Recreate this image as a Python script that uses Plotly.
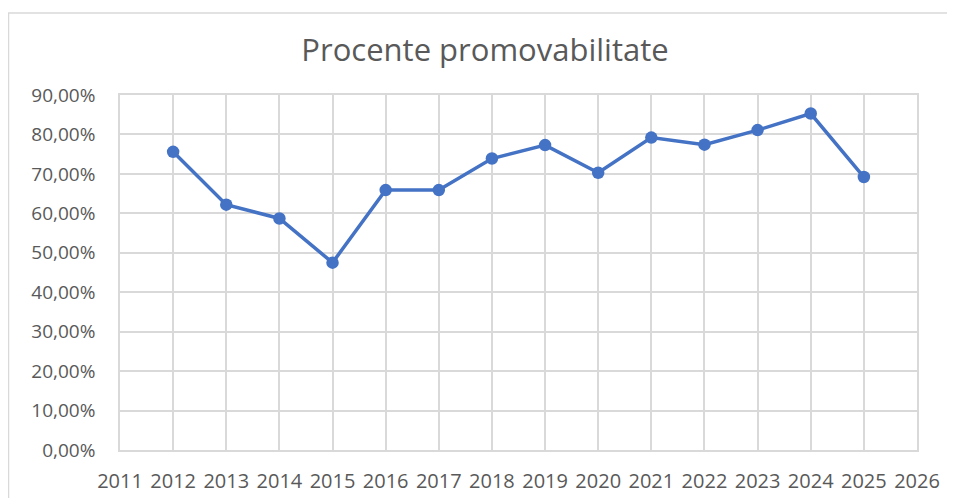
import plotly.graph_objects as go

years = [2012, 2013, 2014, 2015, 2016, 2017, 2018, 2019, 2020, 2021, 2022, 2023, 2024, 2025]
pass_rates = [0.756, 0.622, 0.587, 0.475, 0.659, 0.659, 0.739, 0.773, 0.703, 0.792, 0.774, 0.811, 0.853, 0.692]
x_ticks = list(range(2011, 2027))
y_ticks = [0, 0.1, 0.2, 0.3, 0.4, 0.5, 0.6, 0.7, 0.8, 0.9]

TEXT = "#595959"
GRID = "#d9d9d9"
BLUE = "#4472C4"
FONT = "Open Sans"

# page body has an 8px default margin; compensate
OFF = 8
W, H = 955 - OFF, 498 - OFF
L, R, T, B = 120 - OFF, 917 - OFF, 95 - OFF, 450 - OFF

fig = go.Figure()
fig.add_trace(go.Scatter(
    x=years, y=pass_rates, mode="lines+markers",
    line=dict(color=BLUE, width=3.5),
    marker=dict(color=BLUE, size=12.5),
    showlegend=False,
))

pw, ph = R - L, B - T
fig.add_shape(type="rect", xref="paper", yref="paper",
              x0=(8.5 - OFF - L) / pw, x1=(970 - L) / pw,
              y0=(B - 520) / ph, y1=(B - (13 - OFF)) / ph,
              line=dict(color=GRID, width=1.5), fillcolor="rgba(0,0,0,0)", layer="below")

fig.update_layout(
    width=W, height=H,
    margin=dict(l=L, r=W - R, t=T, b=H - B, autoexpand=False),
    paper_bgcolor="white", plot_bgcolor="white",
    separators=",.",
    font=dict(family=FONT, color=TEXT),
    title=dict(text="Procente promovabilitate", x=(485 - OFF) / W, xanchor="center",
               y=1 - (50 - OFF) / H, yanchor="middle", xref="container", yref="container",
               font=dict(family=FONT, size=31, color=TEXT)),
    xaxis=dict(range=[2011, 2026], tickvals=x_ticks, ticktext=[str(v) for v in x_ticks],
               showgrid=True, gridcolor=GRID, gridwidth=1.5, automargin=False,
               showline=True, linecolor=GRID, linewidth=1.5, mirror=True,
               zeroline=False, ticks="", ticklabelstandoff=12,
               tickfont=dict(family=FONT, size=20, color=TEXT)),
    yaxis=dict(range=[0, 0.9], tickvals=y_ticks, tickformat=".2%",
               showgrid=True, gridcolor=GRID, gridwidth=1.5, automargin=False,
               showline=True, linecolor=GRID, linewidth=1.5, mirror=True,
               zeroline=False, ticks="", ticklabelstandoff=19,
               tickfont=dict(family=FONT, size=19, color=TEXT)),
)

fig.write_html("out.html")
